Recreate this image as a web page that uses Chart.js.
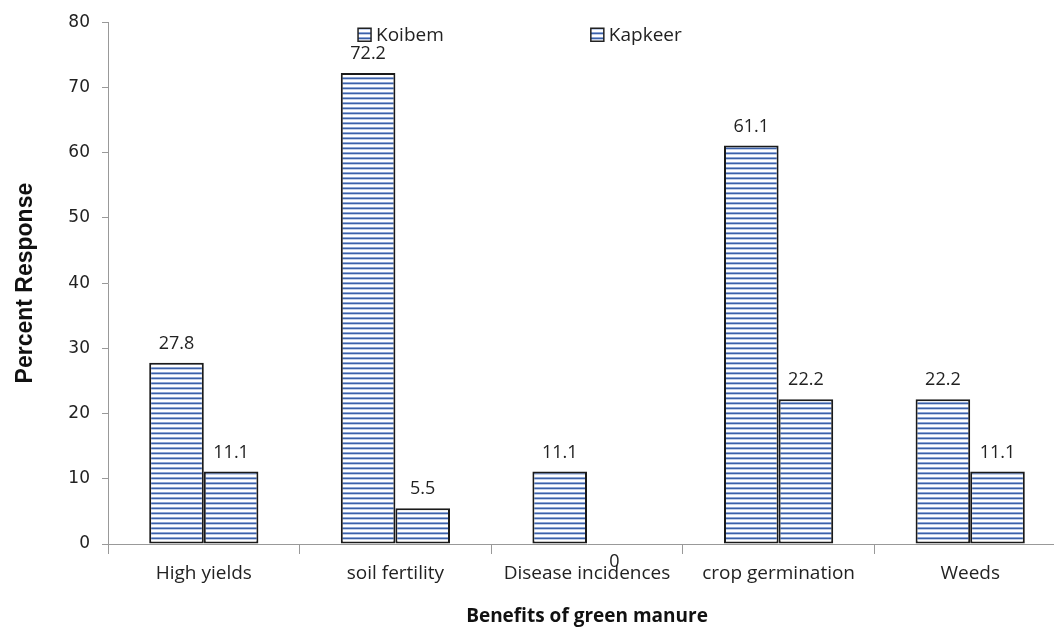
<!DOCTYPE html>
<html>
<head>
<meta charset="utf-8">
<script src="https://cdn.jsdelivr.net/npm/chart.js@4"></script>
<style>
  html, body { margin: 0; padding: 0; background: #fff; overflow: hidden; }
  #wrap { width: 1054px; height: 628px; overflow: hidden; }
</style>
</head>
<body>
<div id="wrap"><canvas id="myChart" width="1066" height="628"></canvas></div>
<script>
const categories = ["High yields", "soil fertility", "Disease incidences", "crop germination", "Weeds"]
const koibem = [27.8, 72.2, 11.1, 61.1, 22.2]
const kapkeer = [11.1, 5.5, 0, 22.2, 11.1]
const seriesNames = ["Koibem", "Kapkeer"]
const yTicks = [0, 10, 20, 30, 40, 50, 60, 70, 80]

let canvas = document.getElementById("myChart")
let ctx = canvas.getContext("2d")

// horizontal stripe fill
let tile = document.createElement("canvas")
tile.width = 4
tile.height = 5
let tctx = tile.getContext("2d")
tctx.fillStyle = "#ffffff"
tctx.fillRect(0, 0, 4, 5)
tctx.fillStyle = "#8ea6d6"
tctx.fillRect(0, 2, 4, 1)
tctx.fillStyle = "#3b60a8"
tctx.fillRect(0, 3, 4, 1)
tctx.fillStyle = "#c3d0ea"
tctx.fillRect(0, 4, 4, 1)
let stripes = ctx.createPattern(tile, "repeat")

const labelFont = "18px 'Open Sans', sans-serif"

// value labels + legend drawn on top
const extras = {
    id: "extras",
    afterDatasetsDraw(chart) {
        let c = chart.ctx
        c.save()
        c.font = labelFont
        c.fillStyle = "#222"
        c.textAlign = "center"
        c.textBaseline = "middle"
        chart.data.datasets.forEach((ds, i) => {
            chart.getDatasetMeta(i).data.forEach((bar, j) => {
                let v = ds.data[j]
                let y = v === 0 ? bar.base + 18 : bar.y - 19
                c.fillText(String(v), bar.x, y)
            })
        })

        // legend
        let area = chart.chartArea
        let yPix = chart.scales.y.getPixelForValue(78)
        let spots = [0.261, 0.504]
        c.textAlign = "left"
        c.font = "19px 'Open Sans', sans-serif"
        seriesNames.forEach((name, i) => {
            let x = area.left + spots[i] * (area.right - area.left)
            c.fillStyle = stripes
            c.fillRect(x, yPix - 7, 13, 13)
            c.strokeStyle = "#222"
            c.lineWidth = 1.5
            c.strokeRect(x, yPix - 7, 13, 13)
            c.fillStyle = "#222"
            c.fillText(name, x + 18, yPix)
        })
        c.restore()
    }
}

new Chart(ctx, {
    type: "bar",
    data: {
        labels: categories,
        datasets: [
            {
                label: seriesNames[0],
                data: koibem,
                backgroundColor: stripes,
                borderColor: "#1a1a1a",
                borderWidth: 2,
                borderSkipped: false
            },
            {
                label: seriesNames[1],
                data: kapkeer,
                backgroundColor: stripes,
                borderColor: "#1a1a1a",
                borderWidth: 2,
                borderSkipped: false
            }
        ]
    },
    options: {
        responsive: false,
        animation: false,
        datasets: {
            bar: { barPercentage: 1, categoryPercentage: 0.57 }
        },
        layout: { padding: { top: 20, right: 0, bottom: 0, left: 0 } },
        plugins: {
            legend: { display: false },
            tooltip: { enabled: false }
        },
        scales: {
            x: {
                afterFit(s) { s.height = 84 },
                border: { display: true, color: "#999", width: 1 },
                grid: { drawOnChartArea: false, drawTicks: true, tickLength: 10, color: "#999", offset: true },
                ticks: {
                    color: "#222",
                    padding: 8,
                    font: { family: "'Open Sans', sans-serif", size: 19 }
                },
                title: {
                    display: true,
                    text: "Benefits of green manure",
                    color: "#111",
                    padding: { top: 10, bottom: 0 },
                    font: { family: "'Open Sans', sans-serif", size: 19, weight: "bold" }
                }
            },
            y: {
                min: 0,
                max: 80,
                afterFit(s) { s.width = 108 },
                afterBuildTicks(s) { s.ticks = yTicks.map(v => ({ value: v })) },
                border: { display: true, color: "#999", width: 1 },
                grid: { drawOnChartArea: false, drawTicks: true, tickLength: 6, color: "#999" },
                ticks: {
                    color: "#222",
                    padding: 12,
                    font: { family: "'DejaVu Sans', sans-serif", size: 17 }
                },
                title: {
                    display: true,
                    text: "Percent Response",
                    color: "#111",
                    padding: { top: 12, bottom: 0 },
                    font: { family: "'Liberation Sans', sans-serif", size: 23, weight: "bold" }
                }
            }
        }
    },
    plugins: [extras]
})
</script>
</body>
</html>
